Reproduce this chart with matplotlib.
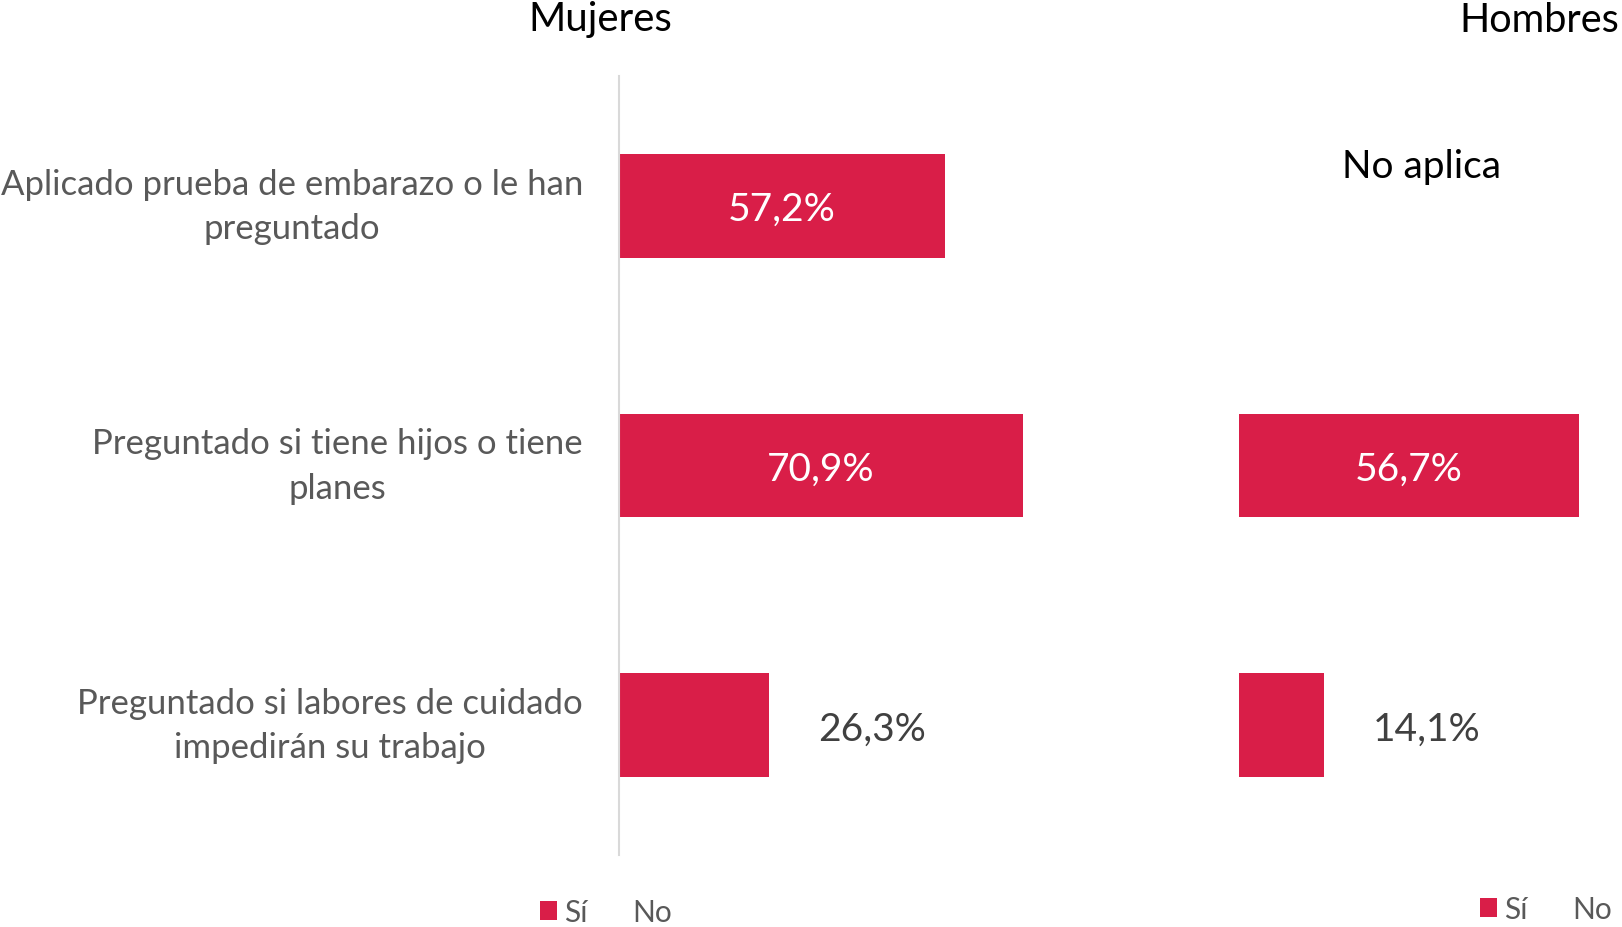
import matplotlib
matplotlib.use("Agg")
import matplotlib.pyplot as plt
from matplotlib.patches import Patch

plt.rcParams['font.family'] = ['Lato', 'DejaVu Sans']

categories = ["Aplicado prueba de embarazo o le han\npreguntado",
              "Preguntado si tiene hijos o tiene\nplanes",
              "Preguntado si labores de cuidado\nimpedirán su trabajo"]
mujeres = [57.2, 70.9, 26.3]
hombres = [None, 56.7, 14.1]
panel_titles = ["Mujeres", "Hombres"]
legend_labels = ["Sí", "No"]
na_text = "No aplica"

RED = "#D91E48"
GREY = "#595959"
DARK = "#404040"

W, H = 1622, 928
fig = plt.figure(figsize=(W / 100, H / 100), dpi=100)

def fx(px):
    return px / W

def fy(py):
    return 1 - py / H

top_px, bot_px = 77, 856
axm = fig.add_axes([fx(619), fy(bot_px), fx(570), (bot_px - top_px) / H])
axh = fig.add_axes([fx(1239), fy(bot_px), fx(W - 1239), (bot_px - top_px) / H])

ypos = [0, 1, 2]
bh = 0.398

def fmt(v):
    return f"{v:.1f}%".replace(".", ",")

def draw(ax, vals, xmax, inside_min):
    ax.set_xlim(0, xmax)
    ax.set_ylim(2.5, -0.5)
    for y, v in zip(ypos, vals):
        if v is None:
            continue
        ax.barh(y, v, height=bh, color=RED)
        ax.barh(y, 100 - v, left=v, height=bh, color="none")
        if v >= inside_min:
            ax.annotate(fmt(v), (v / 2, y), xytext=(0, -3), textcoords="offset pixels",
                        ha="center", va="center", color="white", fontsize=28)
        else:
            ax.annotate(fmt(v), (v, y), xytext=(49, -4), textcoords="offset pixels",
                        ha="left", va="center", color=DARK, fontsize=28)
    ax.set_xticks([])
    ax.set_yticks([])
    for s in ax.spines.values():
        s.set_visible(False)
    ax.patch.set_alpha(0)

draw(axm, mujeres, 100, 40)
draw(axh, hombres, (W - 1239) / 6.0, 40)
axm.spines['left'].set_visible(True)
axm.spines['left'].set_color("#D9D9D9")
axm.spines['left'].set_linewidth(1.5)

for y, c in zip(ypos, categories):
    axm.annotate(c, (0, y), xytext=(-36, 0), textcoords="offset pixels",
                 ha="right", va="center", multialignment="center",
                 color=GREY, fontsize=25, linespacing=1.47)

fig.text(fx(600), fy(19), panel_titles[0], ha="center", va="center", fontsize=29, color="black")
fig.text(fx(1539), fy(21), panel_titles[1], ha="center", va="center", fontsize=28.5, color="black")
axh.annotate(na_text, ((1422 - 1239) / 6.0, -0.145), xytext=(0, 2), textcoords="offset pixels",
             ha="center", va="center", fontsize=28, color="black")

handles = [Patch(facecolor=RED, edgecolor="none"), Patch(facecolor="none", edgecolor="none")]
for cx, cy in [(606, 913), (1546, 910)]:
    fig.legend(handles, legend_labels, loc="center", bbox_to_anchor=(fx(cx), fy(cy)),
               ncol=2, frameon=False, fontsize=21.5, labelcolor=GREY,
               handlelength=0.59, handleheight=0.59, handletextpad=0.24,
               columnspacing=0.66, borderpad=0)

fig.savefig("out.png", dpi=100)
